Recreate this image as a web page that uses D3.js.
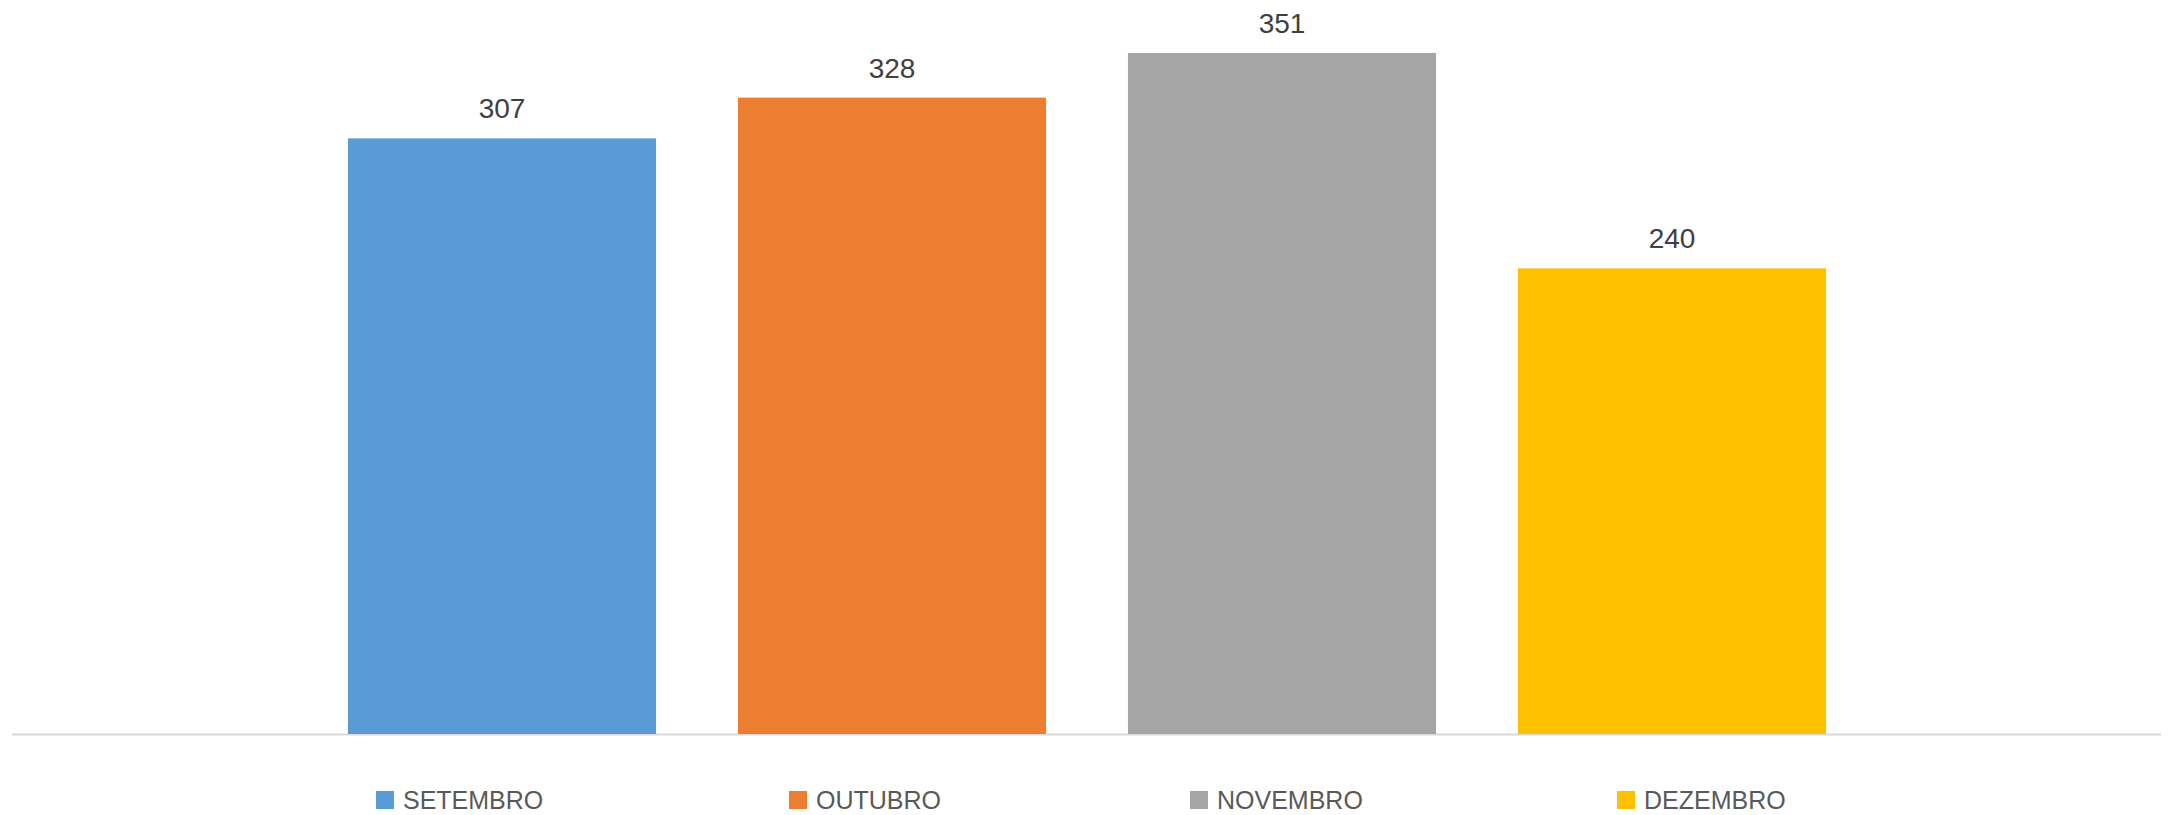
<!DOCTYPE html>
<html>
<head>
<meta charset="utf-8">
<script src="https://cdn.jsdelivr.net/npm/d3@7"></script>
<style>
  body { margin: 0; background: #fff; }
  text { font-family: "Liberation Sans", Arial, sans-serif; }
</style>
</head>
<body>
<div id="chart"></div>
<script>
// data
let months = ["SETEMBRO", "OUTUBRO", "NOVEMBRO", "DEZEMBRO"];
let totals = [307, 328, 351, 240];
let colors = ["#5B9BD5", "#ED7D31", "#A5A5A5", "#FFC000"];

let width = 2168, height = 815;
let baseline = 734;

let svg = d3.select("#chart")
    .append("svg")
    .attr("width", width)
    .attr("height", height);

let x = d3.scaleBand()
    .domain(months)
    .range([307, 1867])
    .paddingInner(0.21)
    .paddingOuter(0.105);

let y = d3.scaleLinear()
    .domain([0, 351])
    .range([baseline, 53]);

let color = d3.scaleOrdinal()
    .domain(months)
    .range(colors);

let rows = months.map((m, i) => ({ month: m, value: totals[i] }));

// axis line
svg.append("line")
    .attr("x1", 12)
    .attr("x2", 2161)
    .attr("y1", baseline + 0.5)
    .attr("y2", baseline + 0.5)
    .attr("stroke", "#d9d9d9")
    .attr("stroke-width", 2);

svg.selectAll("rect.bar")
    .data(rows)
    .enter()
    .append("rect")
    .attr("class", "bar")
    .attr("x", d => x(d.month))
    .attr("y", d => y(d.value))
    .attr("width", x.bandwidth())
    .attr("height", d => baseline - y(d.value))
    .attr("fill", d => color(d.month));

svg.selectAll("text.val")
    .data(rows)
    .enter()
    .append("text")
    .attr("class", "val")
    .attr("x", d => x(d.month) + x.bandwidth() / 2)
    .attr("y", d => y(d.value) - 20)
    .attr("text-anchor", "middle")
    .style("font-size", "28px")
    .style("fill", "#404040")
    .text(d => d.value);

let legendX = [376, 789, 1190, 1617];
let legend = svg.selectAll("g.leg")
    .data(rows)
    .enter()
    .append("g")
    .attr("class", "leg")
    .attr("transform", (d, i) => `translate(${legendX[i]}, 791)`);

legend.append("rect")
    .attr("width", 18)
    .attr("height", 18)
    .attr("fill", d => color(d.month));

legend.append("text")
    .attr("x", 27)
    .attr("y", 18)
    .style("font-size", "25px")
    .style("fill", "#595959")
    .text(d => d.month);
</script>
</body>
</html>
